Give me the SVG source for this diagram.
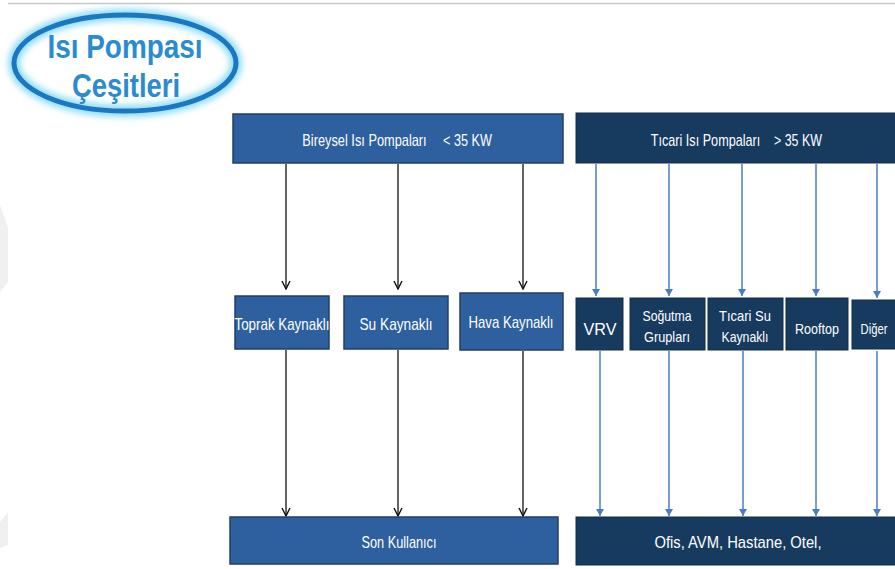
<svg xmlns="http://www.w3.org/2000/svg" width="895" height="569" viewBox="0 0 895 569">
<defs>
<style>
.b1{fill:#2e5f9f;stroke:#223f66;stroke-width:1.5}
.b2{fill:#173a5f;stroke:#122c48;stroke-width:1}
.t{font-family:"Liberation Sans",Arial,sans-serif;fill:#ffffff;text-anchor:middle}
.k{stroke:#111;stroke-width:1.3;fill:none}
.u{stroke:#4a7cc2;stroke-width:1.5;fill:none}
.ttl{font-family:"Liberation Sans",Arial,sans-serif;font-weight:bold;fill:#2a8bcf;font-size:34px;text-anchor:middle}
</style>
<marker id="ak" markerWidth="10" markerHeight="12" refX="5" refY="11" markerUnits="userSpaceOnUse" viewBox="0 0 10 12">
<path d="M1,3 L5,11 L9,3" fill="none" stroke="#111" stroke-width="1.4"/>
</marker>
<marker id="au" markerWidth="10" markerHeight="10" refX="5" refY="9" markerUnits="userSpaceOnUse" viewBox="0 0 10 10">
<path d="M1,2 L5,9 L9,2 Z" fill="#4a7cc2"/>
</marker>
<filter id="glow" x="-20%" y="-30%" width="140%" height="160%">
<feGaussianBlur stdDeviation="3"/>
</filter>
</defs>
<rect width="895" height="569" fill="#ffffff"/>
<line x1="8" y1="3.5" x2="895" y2="3.5" stroke="#c8c8c8" stroke-width="1.5"/>
<polygon points="0,205 8,228 8,282 0,292" fill="#f0f0f0"/>
<polygon points="0,522 8,512 8,545 0,548" fill="#f0f0f0"/>

<g id="title">
<ellipse cx="125" cy="63" rx="111" ry="48" fill="none" stroke="#8fdcf6" stroke-width="12" filter="url(#glow)"/>
<ellipse cx="125" cy="63" rx="111" ry="48" fill="none" stroke="#1a78c2" stroke-width="5"/>
<text class="ttl" x="125" y="58" textLength="155" lengthAdjust="spacingAndGlyphs">Isı Pompası</text>
<text class="ttl" x="126" y="97" textLength="108" lengthAdjust="spacingAndGlyphs">Çeşitleri</text>
</g>

<g id="connectors">
<line class="k" x1="286" y1="164" x2="286" y2="289" marker-end="url(#ak)"/>
<line class="k" x1="398" y1="164" x2="398" y2="289" marker-end="url(#ak)"/>
<line class="k" x1="523" y1="164" x2="523" y2="289" marker-end="url(#ak)"/>
<line class="k" x1="286" y1="350" x2="286" y2="516" marker-end="url(#ak)"/>
<line class="k" x1="398" y1="350" x2="398" y2="516" marker-end="url(#ak)"/>
<line class="k" x1="523" y1="351" x2="523" y2="516" marker-end="url(#ak)"/>
<line class="u" x1="596" y1="164" x2="596" y2="296" marker-end="url(#au)"/>
<line class="u" x1="669" y1="164" x2="669" y2="296" marker-end="url(#au)"/>
<line class="u" x1="742" y1="164" x2="742" y2="296" marker-end="url(#au)"/>
<line class="u" x1="816" y1="164" x2="816" y2="296" marker-end="url(#au)"/>
<line class="u" x1="877" y1="164" x2="877" y2="298" marker-end="url(#au)"/>
<line class="u" x1="600" y1="351" x2="600" y2="516" marker-end="url(#au)"/>
<line class="u" x1="669" y1="351" x2="669" y2="516" marker-end="url(#au)"/>
<line class="u" x1="743" y1="351" x2="743" y2="516" marker-end="url(#au)"/>
<line class="u" x1="816" y1="351" x2="816" y2="516" marker-end="url(#au)"/>
<line class="u" x1="877" y1="351" x2="877" y2="516" marker-end="url(#au)"/>
</g>

<g id="bireysel">
<rect class="b1" x="233" y="114" width="330" height="49"/>
<text class="t" font-size="16" transform="translate(364.5,146) scale(0.8,1)">Bireysel Isı Pompaları</text>
<text class="t" font-size="16" transform="translate(467.5,146) scale(0.79,1)">&lt; 35 KW</text>
</g>
<g id="ticari">
<rect class="b2" x="576" y="113" width="325" height="50"/>
<text class="t" font-size="16" transform="translate(705.5,146) scale(0.79,1)">Tıcari Isı Pompaları</text>
<text class="t" font-size="16" transform="translate(798,146) scale(0.78,1)">&gt; 35 KW</text>
</g>

<g id="toprak">
<rect class="b1" x="235" y="296" width="94" height="53"/>
<text class="t" x="282" y="330" font-size="17" textLength="95" lengthAdjust="spacingAndGlyphs">Toprak Kaynaklı</text>
</g>
<g id="su">
<rect class="b1" x="344" y="296" width="104" height="53"/>
<text class="t" x="396" y="330" font-size="17" textLength="73" lengthAdjust="spacingAndGlyphs">Su Kaynaklı</text>
</g>
<g id="hava">
<rect class="b1" x="460" y="293" width="103" height="57"/>
<text class="t" x="511" y="328" font-size="17" textLength="85" lengthAdjust="spacingAndGlyphs">Hava Kaynaklı</text>
</g>

<g id="vrv">
<rect class="b2" x="576" y="298" width="47" height="52"/>
<text class="t" x="600" y="335" font-size="17" textLength="33" lengthAdjust="spacingAndGlyphs">VRV</text>
</g>
<g id="sogutma">
<rect class="b2" x="630" y="298" width="75" height="52"/>
<text class="t" x="667" y="321" font-size="15" textLength="49" lengthAdjust="spacingAndGlyphs">Soğutma</text>
<text class="t" x="667" y="342" font-size="15" textLength="46" lengthAdjust="spacingAndGlyphs">Grupları</text>
</g>
<g id="ticarisu">
<rect class="b2" x="708" y="298" width="75" height="52"/>
<text class="t" x="745" y="321" font-size="15" textLength="52" lengthAdjust="spacingAndGlyphs">Tıcari Su</text>
<text class="t" x="745" y="342" font-size="15" textLength="47" lengthAdjust="spacingAndGlyphs">Kaynaklı</text>
</g>
<g id="rooftop">
<rect class="b2" x="786" y="298" width="62" height="52"/>
<text class="t" x="817" y="334" font-size="15" textLength="44" lengthAdjust="spacingAndGlyphs">Rooftop</text>
</g>
<g id="diger">
<rect class="b2" x="852" y="300" width="50" height="49"/>
<text class="t" font-size="15" transform="translate(874,334) scale(0.75,1)">Diğer</text>
</g>

<g id="son">
<rect class="b1" x="230" y="517" width="328" height="47"/>
<text class="t" x="399" y="548" font-size="17" textLength="75" lengthAdjust="spacingAndGlyphs">Son Kullanıcı</text>
</g>
<g id="ofis">
<rect class="b2" x="576" y="517" width="325" height="48"/>
<text class="t" x="738" y="548" font-size="17" textLength="167" lengthAdjust="spacingAndGlyphs">Ofis, AVM, Hastane, Otel,</text>
</g>
</svg>
